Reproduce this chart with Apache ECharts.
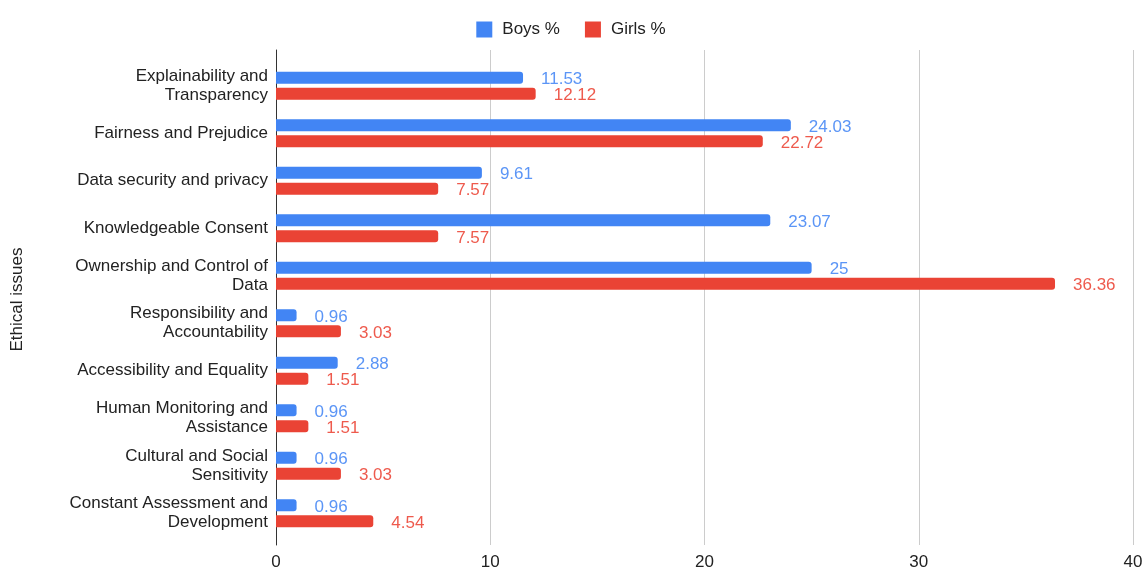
<!DOCTYPE html>
<html>
<head>
<meta charset="utf-8">
<script src="https://cdn.jsdelivr.net/npm/echarts@6/dist/echarts.min.js"></script>
<style>
  html, body { margin: 0; padding: 0; background: #fff; }
  #chart { width: 1142px; height: 571px; }
</style>
</head>
<body>
<div id="chart"></div>
<script>
// Ethical issues, listed top to bottom
const categories = [
  'Explainability and\nTransparency',
  'Fairness and Prejudice',
  'Data security and privacy',
  'Knowledgeable Consent',
  'Ownership and Control of\nData',
  'Responsibility and\nAccountability',
  'Accessibility and Equality',
  'Human Monitoring and\nAssistance',
  'Cultural and Social\nSensitivity',
  'Constant Assessment and\nDevelopment'
];
const boys = [11.53, 24.03, 9.61, 23.07, 25, 0.96, 2.88, 0.96, 0.96, 0.96];
const girls = [12.12, 22.72, 7.57, 7.57, 36.36, 3.03, 1.51, 1.51, 3.03, 4.54];
const xTicks = [0, 10, 20, 30, 40];

const font = '"Liberation Sans", Arial, sans-serif';
const chart = echarts.init(document.getElementById('chart'), null, { renderer: 'canvas' });

function barSeries(name, data, color, labelColor) {
  return {
    name: name,
    type: 'bar',
    xAxisIndex: 0,
    yAxisIndex: 0,
    data: data,
    barWidth: 12,
    barGap: '33%',
    itemStyle: { color: color, borderRadius: [0, 3, 3, 0] },
    label: {
      show: true,
      position: 'right',
      distance: 18,
      offset: [0, 2],
      color: labelColor,
      fontFamily: font,
      fontSize: 17
    }
  };
}

const xRange = { type: 'value', min: xTicks[0], max: xTicks[xTicks.length - 1], interval: 10 };

chart.setOption({
  animation: false,
  textStyle: { fontFamily: font },
  legend: {
    top: 16,
    left: 'center',
    itemWidth: 16,
    itemHeight: 16,
    itemGap: 25,
    icon: 'rect',
    textStyle: { fontSize: 17, color: '#222', fontFamily: font, padding: [0, 0, 0, 5] },
    data: ['Boys %', 'Girls %']
  },
  grid: [
    // bars and category labels
    { left: 276, right: 9, top: 62, bottom: 34, outerBoundsMode: 'none', containLabel: false },
    // frame: gridlines, baseline and tick labels span slightly taller than the bands
    { left: 276, right: 9, top: 50, bottom: 26, outerBoundsMode: 'none', containLabel: false }
  ],
  xAxis: [
    Object.assign({ gridIndex: 0, show: false }, xRange),
    Object.assign({
      gridIndex: 1,
      axisLine: { show: false },
      axisTick: { show: false },
      axisLabel: { color: '#222', fontSize: 17, margin: 9, fontFamily: font },
      splitLine: { lineStyle: { color: '#cccccc', width: 1 } }
    }, xRange)
  ],
  yAxis: [
    {
      gridIndex: 0,
      type: 'category',
      inverse: true,
      data: categories,
      name: 'Ethical issues',
      nameLocation: 'middle',
      nameGap: 250,
      nameTextStyle: { color: '#222', fontSize: 17, fontFamily: font },
      axisLine: { show: false },
      axisTick: { show: false },
      axisLabel: { color: '#222', fontSize: 17, margin: 8, lineHeight: 19, fontFamily: font }
    },
    {
      gridIndex: 1,
      type: 'value',
      min: 0,
      max: 1,
      axisLine: { show: true, lineStyle: { color: '#333', width: 1 } },
      axisTick: { show: false },
      axisLabel: { show: false },
      splitLine: { show: false }
    }
  ],
  series: [
    barSeries('Boys %', boys, '#4285f4', '#5b95f6'),
    barSeries('Girls %', girls, '#ea4335', '#ee5a4d')
  ]
});
</script>
</body>
</html>
